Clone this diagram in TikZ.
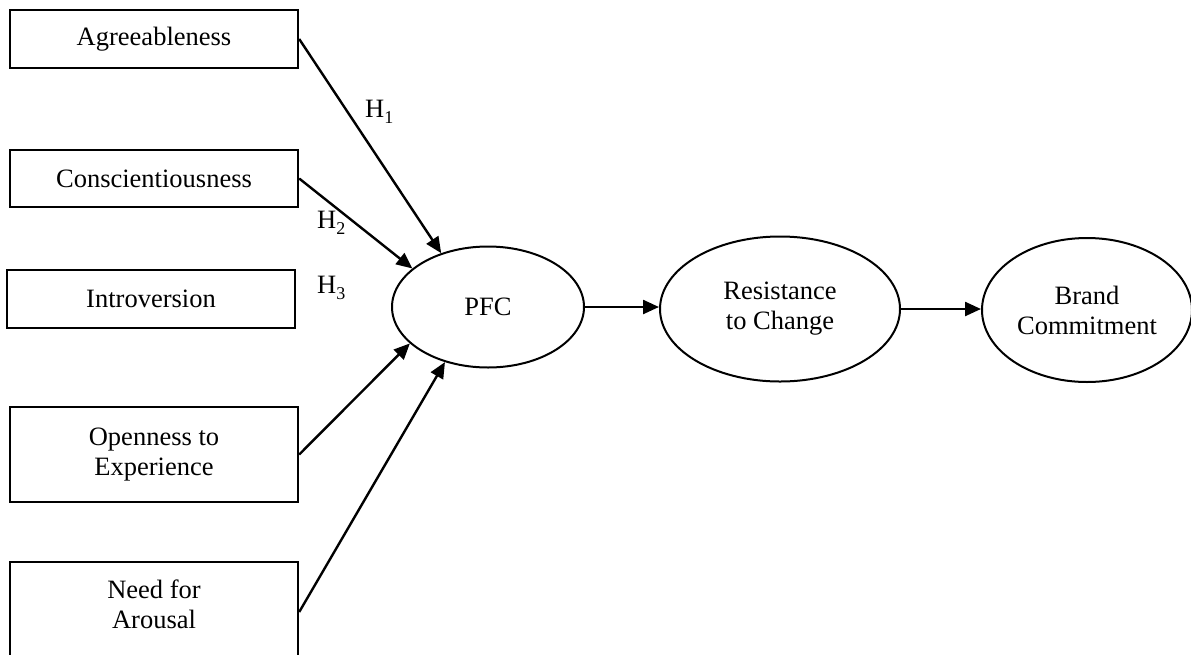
\documentclass[tikz,border=0pt]{standalone}
\usepackage{fontspec}
\setmainfont{Liberation Serif}
\usetikzlibrary{arrows.meta,shapes.geometric}
\newcommand{\hypsub}[1]{\raisebox{-6pt}{\fontsize{18}{18}\selectfont #1}}
\begin{document}
\begin{tikzpicture}[x=1pt,y=-1pt,
  font=\fontsize{26.5}{30}\selectfont,
  box/.style={draw,line width=2.4pt,rectangle,minimum width=288pt,inner sep=0pt,align=center},
  oval/.style={draw,line width=2pt,ellipse,inner sep=0pt,align=center},
  link/.style={line width=2.4pt,-{Triangle[length=16pt,width=14pt]}},
  hyp/.style={anchor=base west,inner sep=0pt}]
\useasboundingbox (0,0) rectangle (1191,654);
\clip (0,0) rectangle (1191,654);
\node[box,minimum height=58pt] (A) at (154,39) {Agreeableness};
\node[box,minimum height=57pt] (C) at (154,178.5) {Conscientiousness};
\node[box,minimum height=58pt] (I) at (151,299) {Introversion};
\node[box,minimum height=95pt] (O) at (154,454.5) {Openness to\\Experience};
\node[box,minimum height=100pt] (N) at (154,612) {};
\node[align=center,inner sep=0pt] (Nt) at (154,604) {Need for\\Arousal};
\node[oval,minimum width=192pt,minimum height=121pt] (PFC) at (488,307) {PFC};
\node[oval,minimum width=240pt,minimum height=145pt] (RC) at (780,309) {Resistance\\to Change};
\node[oval,minimum width=210pt,minimum height=144pt] (BC) at (1087,310) {Brand\\Commitment};
\draw[link] (A.east) -- (PFC.131);
\draw[link] (C.east) -- (PFC.153);
\draw[link] (O.east) -- (PFC.205);
\draw[link] (N.east) -- (PFC.232);
\draw[link] (PFC.east) -- (PFC.east -| RC.west);
\draw[link] (RC.east) -- (RC.east -| BC.west);
\node[hyp] (h1) at (365,117) {H\hypsub{1}};
\node[hyp] (h2) at (317,228) {H\hypsub{2}};
\node[hyp] (h3) at (317,293) {H\hypsub{3}};
\end{tikzpicture}
\end{document}
